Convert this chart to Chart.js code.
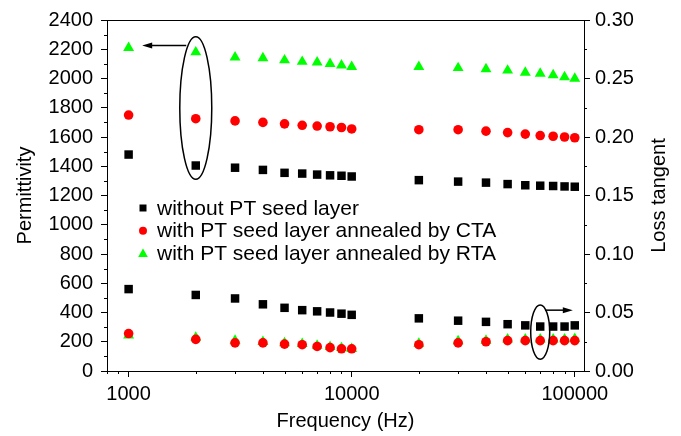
<!DOCTYPE html>
<html>
<head>
<meta charset="utf-8">
<script src="https://cdn.jsdelivr.net/npm/chart.js@4.4.1/dist/chart.umd.min.js"></script>
<style>
  html, body { margin: 0; padding: 0; background: #fff; }
  #chart { display: block; }
</style>
</head>
<body>
<canvas id="chart" width="681" height="436"></canvas>
<script>
// frequencies (Hz)
const frequencies = [1000, 2000, 3000, 4000, 5000, 6000, 7000, 8000, 9000, 10000,
  20000, 30000, 40000, 50000, 60000, 70000, 80000, 90000, 100000];

// permittivity (left axis)
const permNoSeed = [1480, 1405, 1390, 1375, 1355, 1350, 1343, 1338, 1335, 1330,
  1305, 1295, 1288, 1278, 1270, 1267, 1265, 1262, 1260];
const permCTA = [1750, 1725, 1710, 1700, 1690, 1680, 1675, 1670, 1665, 1655,
  1650, 1650, 1640, 1630, 1620, 1610, 1605, 1600, 1595];
const permRTA = [2210, 2180, 2145, 2140, 2125, 2115, 2110, 2100, 2090, 2080,
  2080, 2072, 2065, 2055, 2040, 2033, 2024, 2010, 2000];

// loss tangent (right axis)
const lossNoSeed = [0.070, 0.065, 0.062, 0.057, 0.054, 0.052, 0.051, 0.050, 0.049, 0.048,
  0.045, 0.043, 0.042, 0.040, 0.039, 0.038, 0.038, 0.038, 0.039];
const lossCTA = [0.032, 0.027, 0.024, 0.024, 0.023, 0.0225, 0.021, 0.020, 0.019, 0.019,
  0.0225, 0.024, 0.025, 0.026, 0.026, 0.026, 0.026, 0.026, 0.026];
const lossRTA = [0.0305, 0.0285, 0.026, 0.025, 0.0238, 0.0232, 0.0217, 0.0207, 0.0197, 0.019,
  0.0235, 0.0255, 0.026, 0.027, 0.027, 0.027, 0.027, 0.0272, 0.0275];

const seriesLabels = [
  'without PT seed layer',
  'with PT seed layer annealed by CTA',
  'with PT seed layer annealed by RTA'
];

const xTicks = [1000, 10000, 100000];

const FONT = 'Liberation Sans, Arial, sans-serif';
const BLACK = '#000000';
const RED = '#ff0000';
const GREEN = '#00ff00';

function pts(ys) {
  return frequencies.map((f, i) => ({ x: f, y: ys[i] }));
}

const styles = [
  { color: BLACK, pointStyle: 'rect', radius: 6 },
  { color: RED, pointStyle: 'circle', radius: 4.8 },
  { color: GREEN, pointStyle: 'triangle', radius: 6.3 }
];

function makeSet(label, ys, axis, s, order) {
  return {
    label,
    data: pts(ys),
    yAxisID: axis,
    showLine: false,
    pointStyle: s.pointStyle,
    pointRadius: s.radius,
    pointBorderWidth: 0,
    backgroundColor: s.color,
    borderColor: s.color,
    order
  };
}

// annotation: ellipses around the 2000 Hz and 70000 Hz points, arrows to the axes
const ellipseNotes = [
  { x: 2000, axis: 'y', top: 2286, bottom: 1311, rx: 16 },
  { x: 70000, axis: 'y2', top: 0.0565, bottom: 0.0100, rx: 9.5 }
];
const arrowNotes = [
  { axis: 'y', from: [1813, 2225], to: [1150, 2225] },
  { axis: 'y2', from: [73500, 0.052], to: [98000, 0.052] }
];

const decorPlugin = {
  id: 'decor',
  afterDraw(chart) {
    const ctx = chart.ctx;
    const a = chart.chartArea;
    const sx = chart.scales.x;
    ctx.save();
    ctx.strokeStyle = BLACK;
    ctx.fillStyle = BLACK;
    ctx.lineWidth = 1;

    // top frame line
    ctx.beginPath();
    ctx.moveTo(a.left, a.top + 0.5);
    ctx.lineTo(a.right, a.top + 0.5);
    ctx.stroke();

    // minor ticks on x
    ctx.beginPath();
    for (let d = 100; d <= 100000; d *= 10) {
      for (let k = 2; k <= 9; k++) {
        const v = k * d;
        if (v < sx.min || v > sx.max || xTicks.includes(v)) continue;
        const px = Math.round(sx.getPixelForValue(v)) + 0.5;
        ctx.moveTo(px, a.bottom);
        ctx.lineTo(px, a.bottom + 3);
      }
    }
    // minor ticks left axis
    const sy = chart.scales.y;
    for (let v = 100; v < 2400; v += 200) {
      const py = Math.round(sy.getPixelForValue(v)) + 0.5;
      ctx.moveTo(a.left - 3, py);
      ctx.lineTo(a.left, py);
    }
    // minor ticks right axis
    const sy2 = chart.scales.y2;
    for (let v = 0.025; v < 0.3; v += 0.05) {
      const py = Math.round(sy2.getPixelForValue(v)) + 0.5;
      ctx.moveTo(a.right, py);
      ctx.lineTo(a.right + 3, py);
    }
    ctx.stroke();

    // ellipses
    ctx.lineWidth = 1.5;
    ellipseNotes.forEach(e => {
      const s = chart.scales[e.axis];
      const cx = sx.getPixelForValue(e.x);
      const t = s.getPixelForValue(e.top);
      const b = s.getPixelForValue(e.bottom);
      ctx.beginPath();
      ctx.ellipse(cx, (t + b) / 2, e.rx, (b - t) / 2, 0, 0, Math.PI * 2);
      ctx.stroke();
    });

    // arrows
    arrowNotes.forEach(n => {
      const s = chart.scales[n.axis];
      const x1 = sx.getPixelForValue(n.from[0]), y1 = s.getPixelForValue(n.from[1]);
      const x2 = sx.getPixelForValue(n.to[0]), y2 = s.getPixelForValue(n.to[1]);
      const dir = Math.sign(x2 - x1);
      ctx.lineWidth = 1.5;
      ctx.beginPath();
      ctx.moveTo(x1, y1);
      ctx.lineTo(x2 - dir * 6, y2);
      ctx.stroke();
      ctx.beginPath();
      ctx.moveTo(x2, y2);
      ctx.lineTo(x2 - dir * 10, y2 - 3);
      ctx.lineTo(x2 - dir * 10, y2 + 3);
      ctx.closePath();
      ctx.fill();
    });

    // legend
    ctx.font = '21px ' + FONT;
    ctx.textBaseline = 'middle';
    ctx.textAlign = 'left';
    const lx = a.left + 36;
    seriesLabels.forEach((label, i) => {
      const ly = 208 + i * 22.7;
      const s = styles[i];
      ctx.fillStyle = s.color;
      ctx.beginPath();
      if (s.pointStyle === 'rect') {
        ctx.rect(lx - 3.5, ly - 3.5, 7, 7);
      } else if (s.pointStyle === 'circle') {
        ctx.arc(lx, ly, 4, 0, Math.PI * 2);
      } else {
        ctx.moveTo(lx, ly - 5);
        ctx.lineTo(lx + 4.8, ly + 3.5);
        ctx.lineTo(lx - 4.8, ly + 3.5);
        ctx.closePath();
      }
      ctx.fill();
      ctx.fillStyle = BLACK;
      ctx.fillText(label, lx + 14, ly + 1);
    });

    // axis titles
    ctx.font = '20px ' + FONT;
    ctx.textAlign = 'center';
    const midY = (a.top + a.bottom) / 2;
    ctx.save();
    ctx.translate(25, midY);
    ctx.rotate(-Math.PI / 2);
    ctx.fillText('Permittivity', 0, 0);
    ctx.restore();
    ctx.save();
    ctx.translate(659, midY);
    ctx.rotate(-Math.PI / 2);
    ctx.fillText('Loss tangent', 0, 0);
    ctx.restore();
    ctx.fillText('Frequency (Hz)', (a.left + a.right) / 2, 421);

    ctx.restore();
  }
};

const tickFont = { family: FONT, size: 20 };

new Chart(document.getElementById('chart'), {
  type: 'scatter',
  data: {
    datasets: [
      makeSet(seriesLabels[0], permNoSeed, 'y', styles[0], 3),
      makeSet(seriesLabels[1], permCTA, 'y', styles[1], 2),
      makeSet(seriesLabels[2], permRTA, 'y', styles[2], 1),
      makeSet(seriesLabels[0], lossNoSeed, 'y2', styles[0], 3),
      makeSet(seriesLabels[1], lossCTA, 'y2', styles[1], 1),
      makeSet(seriesLabels[2], lossRTA, 'y2', styles[2], 2)
    ]
  },
  options: {
    responsive: false,
    animation: false,
    events: [],
    layout: { padding: { top: 20, left: 0, right: 0, bottom: 0 } },
    plugins: { legend: { display: false }, tooltip: { enabled: false } },
    scales: {
      x: {
        type: 'logarithmic',
        position: 'bottom',
        min: 800,
        max: 110000,
        afterBuildTicks: s => { s.ticks = xTicks.map(v => ({ value: v })); },
        afterFit: s => { s.height = 65; },
        ticks: { callback: v => String(v), font: tickFont, color: BLACK, padding: 5, maxRotation: 0, autoSkip: false },
        grid: { drawOnChartArea: false, drawTicks: true, tickLength: 6, color: BLACK },
        border: { color: BLACK, width: 1 }
      },
      y: {
        type: 'linear',
        position: 'left',
        min: 0,
        max: 2400,
        afterFit: s => { s.width = 107; },
        ticks: { stepSize: 200, callback: v => String(v), font: tickFont, color: BLACK, padding: 8 },
        grid: { drawOnChartArea: false, drawTicks: true, tickLength: 6, color: BLACK },
        border: { color: BLACK, width: 1 }
      },
      y2: {
        type: 'linear',
        position: 'right',
        min: 0,
        max: 0.3,
        afterFit: s => { s.width = 97; },
        ticks: { stepSize: 0.05, callback: v => v.toFixed(2), font: tickFont, color: BLACK, padding: 5 },
        grid: { drawOnChartArea: false, drawTicks: true, tickLength: 6, color: BLACK },
        border: { color: BLACK, width: 1 }
      }
    }
  },
  plugins: [decorPlugin]
});
</script>
</body>
</html>
